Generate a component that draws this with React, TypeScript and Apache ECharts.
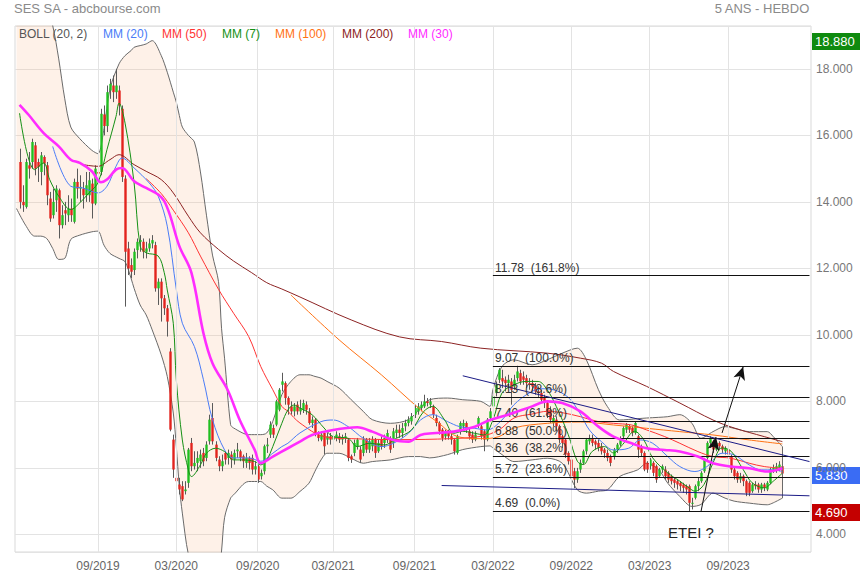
import React, { useEffect, useRef } from 'react';
import * as echarts from 'echarts';

const FONT = '"Liberation Sans", Arial, Helvetica, sans-serif';

// Weekly categories: category 0 = 2019-02-25 (empty lead-in), real week i -> category i + 1
const FIRST_WEEK = '2019-02-25';
const CATEGORY_COUNT = 264;

const xTickDates = ['2019-09-02', '2020-03-02', '2020-09-07', '2021-03-01', '2021-09-06', '2022-03-07', '2022-09-05', '2023-03-06', '2023-09-04'];
const xTickLabels = ['09/2019', '03/2020', '09/2020', '03/2021', '09/2021', '03/2022', '09/2022', '03/2023', '09/2023'];

// weekly candles from 2019-03-04: [open, close, low, high]
const candles: number[][] = [
  [15.2, 14.0, 13.8, 15.6], [14.0, 13.9, 13.7, 14.5], [13.85, 15.2, 13.8, 15.3], [15.1, 15.0, 14.7, 15.5], [15.2, 15.8, 15.0, 15.9],
  [15.7, 15.0, 14.8, 15.8], [15.2, 15.05, 14.6, 15.3], [14.9, 15.4, 14.5, 15.5], [15.35, 15.15, 14.8, 15.4], [15.1, 14.2, 13.9, 15.2],
  [14.1, 13.5, 13.4, 14.3], [13.6, 14.0, 13.5, 14.4], [14.05, 14.4, 13.7, 14.5], [14.35, 13.3, 12.9, 14.4], [13.3, 13.6, 13.2, 13.9],
  [13.75, 13.65, 13.3, 14.0], [13.6, 13.8, 13.4, 14.2], [13.8, 13.6, 13.4, 14.1], [13.4, 14.6, 13.35, 14.7], [14.6, 14.4, 14.1, 15.0],
  [14.4, 14.45, 14.0, 14.8], [14.4, 14.2, 13.8, 14.6], [14.2, 14.5, 14.0, 14.9], [14.2, 14.65, 14.0, 14.9], [14.55, 13.95, 13.5, 14.7],
  [13.95, 15.0, 13.9, 15.1], [14.9, 14.85, 14.4, 15.2], [14.9, 16.65, 14.8, 16.8], [16.63, 16.28, 16.0, 16.9], [16.28, 17.3, 16.1, 17.5],
  [17.35, 17.55, 17.1, 17.7], [17.5, 17.3, 17.0, 17.8], [17.3, 17.5, 17.1, 18.0], [17.35, 16.9, 16.6, 17.5], [16.8, 14.75, 14.6, 16.9],
  [14.7, 12.5, 10.85, 14.8], [12.6, 12.0, 11.8, 12.8], [12.1, 11.9, 11.7, 12.3], [11.95, 12.5, 11.8, 12.6], [12.55, 12.8, 12.3, 12.9],
  [12.8, 12.85, 12.5, 13.0], [12.8, 12.5, 12.3, 12.9], [12.5, 12.6, 12.3, 12.8], [12.6, 12.75, 12.5, 12.9], [12.75, 12.85, 12.6, 13.0],
  [12.7, 11.4, 11.3, 12.8], [11.4, 11.6, 10.9, 11.7], [11.6, 11.1, 10.4, 11.7], [11.1, 10.8, 10.6, 11.2], [10.8, 10.4, 9.95, 10.9],
  [9.5, 7.15, 7.1, 9.6], [6.85, 5.95, 5.7, 7.0], [5.7, 5.6, 4.95, 5.9], [5.5, 5.35, 5.2, 5.7], [5.45, 5.05, 5.0, 5.6],
  [5.3, 5.35, 5.2, 5.6], [5.55, 6.55, 5.4, 6.6], [6.75, 6.05, 5.9, 6.9], [6.05, 6.15, 5.95, 6.5], [6.15, 6.3, 5.9, 6.5],
  [6.2, 6.4, 6.0, 6.55], [6.45, 6.2, 6.05, 6.6], [6.3, 6.7, 6.2, 6.8], [6.8, 7.45, 6.7, 7.6], [7.5, 6.8, 6.7, 7.95],
  [6.7, 6.3, 6.2, 6.8], [6.25, 6.05, 5.9, 6.35], [6.05, 6.2, 5.9, 6.4], [6.45, 6.25, 6.1, 6.5], [6.3, 6.45, 6.1, 6.55],
  [6.4, 6.25, 6.0, 6.5], [6.25, 6.45, 6.1, 6.55], [6.5, 6.55, 6.3, 6.75], [6.5, 6.3, 6.2, 6.55], [6.35, 6.2, 6.0, 6.4],
  [6.15, 6.3, 6.0, 6.45], [6.3, 6.15, 5.95, 6.35], [6.3, 5.95, 5.8, 6.4], [5.95, 6.05, 5.8, 6.2], [6.05, 5.65, 5.55, 6.1],
  [5.75, 5.85, 5.65, 5.95], [5.9, 6.65, 5.8, 6.7], [6.65, 6.7, 6.45, 6.9], [7.0, 7.3, 6.9, 7.4], [7.2, 7.0, 6.9, 7.3],
  [7.3, 8.0, 7.25, 8.05], [7.75, 8.35, 7.7, 8.4], [8.5, 8.6, 8.3, 8.86], [8.55, 8.1, 7.9, 8.6], [8.1, 7.9, 7.6, 8.15],
  [7.85, 7.7, 7.6, 8.0], [7.7, 7.85, 7.55, 7.95], [7.9, 7.7, 7.6, 8.0], [7.7, 7.8, 7.6, 8.05], [7.75, 7.95, 7.65, 8.05],
  [7.9, 7.75, 7.6, 8.0], [7.7, 7.35, 7.3, 7.8], [7.35, 7.45, 7.2, 7.55], [7.45, 7.05, 6.95, 7.5], [7.0, 6.9, 6.8, 7.1],
  [6.85, 7.0, 6.8, 7.1], [7.05, 6.65, 6.4, 7.1], [6.85, 6.95, 6.7, 7.05], [6.95, 6.85, 6.7, 7.05], [6.85, 6.95, 6.7, 7.1],
  [6.9, 7.0, 6.8, 7.1], [6.95, 6.85, 6.75, 7.05], [6.85, 6.9, 6.7, 7.0], [6.9, 6.95, 6.75, 7.05], [6.85, 6.3, 6.2, 6.9],
  [6.35, 6.25, 6.15, 6.4], [6.45, 6.75, 6.35, 6.85], [6.65, 6.85, 6.55, 6.9], [6.55, 6.25, 6.15, 6.65], [6.45, 6.85, 6.35, 6.95],
  [6.85, 6.55, 6.45, 6.9], [6.55, 6.8, 6.45, 6.9], [6.65, 6.85, 6.5, 6.95], [6.85, 6.45, 6.3, 6.9], [6.5, 6.75, 6.45, 6.85],
  [6.85, 6.65, 6.55, 6.95], [6.75, 6.9, 6.6, 7.0], [6.85, 7.05, 6.75, 7.15], [6.85, 6.55, 6.45, 6.95], [6.75, 7.1, 6.6, 7.2],
  [7.05, 7.15, 6.9, 7.3], [7.15, 7.05, 6.9, 7.3], [7.05, 7.2, 6.9, 7.35], [7.25, 7.35, 7.1, 7.45], [7.35, 7.45, 7.25, 7.55],
  [7.4, 7.55, 7.3, 7.65], [7.6, 7.8, 7.5, 7.9], [7.7, 7.85, 7.6, 7.95], [7.8, 7.9, 7.7, 8.0], [7.85, 8.0, 7.8, 8.2],
  [8.0, 7.95, 7.85, 8.1], [7.9, 8.0, 7.8, 8.1], [7.85, 7.6, 7.5, 7.9], [7.5, 7.35, 7.25, 7.6], [7.35, 7.1, 7.0, 7.4],
  [7.15, 6.9, 6.8, 7.2], [6.95, 7.05, 6.85, 7.15], [7.05, 6.95, 6.85, 7.15], [6.95, 6.85, 6.7, 7.05], [6.85, 6.5, 6.4, 6.9],
  [6.45, 6.95, 6.4, 7.0], [7.1, 7.35, 7.0, 7.4], [7.25, 7.35, 7.15, 7.45], [7.35, 7.2, 7.05, 7.4], [7.1, 6.95, 6.85, 7.2],
  [7.0, 6.85, 6.75, 7.1], [6.85, 7.0, 6.8, 7.1], [7.3, 7.5, 7.2, 7.55], [7.25, 6.95, 6.85, 7.35], [7.1, 6.85, 6.5, 7.15],
  [6.85, 7.45, 6.8, 7.5], [7.5, 7.7, 7.4, 7.8], [7.85, 8.15, 7.8, 8.25], [8.25, 8.5, 8.15, 8.6], [8.65, 8.95, 8.55, 9.0],
  [8.7, 8.6, 8.4, 8.95], [8.65, 8.55, 8.3, 8.75], [8.55, 8.65, 8.4, 8.8], [8.6, 8.35, 7.9, 8.7], [8.45, 8.65, 8.35, 8.8],
  [8.7, 8.9, 8.6, 9.07], [8.85, 8.6, 8.5, 8.95], [8.75, 8.65, 8.5, 8.9], [8.7, 8.55, 8.4, 8.8], [8.55, 8.5, 8.35, 8.7],
  [8.55, 8.45, 8.3, 8.65], [8.45, 8.3, 8.2, 8.55], [8.3, 8.25, 8.1, 8.45], [8.25, 8.05, 7.95, 8.35], [8.1, 7.95, 7.8, 8.2],
  [7.95, 7.6, 7.5, 8.0], [7.75, 7.45, 7.35, 7.85], [7.35, 7.5, 7.25, 7.6], [7.45, 7.25, 7.1, 7.55], [7.25, 6.85, 6.75, 7.3],
  [6.95, 6.75, 6.6, 7.0], [6.85, 6.4, 6.3, 6.9], [6.45, 6.2, 6.1, 6.5], [6.25, 5.75, 5.65, 6.3], [5.9, 5.65, 5.39, 6.0],
  [5.65, 5.9, 5.55, 6.0], [5.95, 6.15, 5.85, 6.25], [6.15, 6.5, 6.1, 6.55], [6.5, 6.85, 6.4, 6.9], [6.8, 6.9, 6.7, 7.0],
  [6.9, 6.75, 6.65, 7.0], [6.8, 6.7, 6.55, 6.85], [6.75, 6.6, 6.5, 6.85], [6.65, 6.5, 6.4, 6.75], [6.55, 6.45, 6.3, 6.6],
  [6.45, 6.3, 6.2, 6.55], [6.35, 6.15, 6.05, 6.4], [6.35, 6.55, 6.25, 6.6], [6.55, 6.7, 6.45, 6.75], [6.7, 6.85, 6.65, 6.95],
  [6.95, 7.2, 6.9, 7.25], [7.15, 7.3, 7.05, 7.35], [7.25, 7.15, 7.05, 7.3], [7.2, 7.05, 6.95, 7.25], [7.05, 7.35, 7.0, 7.4],
  [6.95, 6.55, 6.3, 7.0], [6.65, 6.45, 6.35, 6.7], [6.45, 5.95, 5.9, 6.5], [6.15, 5.95, 5.85, 6.2], [6.05, 6.25, 5.95, 6.3],
  [6.15, 5.85, 5.75, 6.2], [6.05, 5.65, 5.55, 6.1], [5.75, 5.95, 5.7, 6.0], [5.95, 6.05, 5.85, 6.1], [5.95, 5.75, 5.65, 6.05],
  [5.85, 5.65, 5.55, 5.9], [5.75, 5.6, 5.5, 5.8], [5.65, 5.55, 5.4, 5.7], [5.6, 5.5, 5.35, 5.65], [5.55, 5.45, 5.3, 5.6],
  [5.5, 5.4, 5.25, 5.55], [5.45, 5.35, 5.2, 5.5], [5.45, 4.95, 4.69, 5.5], [4.95, 4.95, 4.75, 5.1], [5.1, 5.45, 5.05, 5.5],
  [5.45, 5.6, 5.3, 5.7], [5.6, 5.85, 5.55, 5.9], [5.9, 6.25, 5.85, 6.3], [6.3, 6.75, 6.25, 6.8], [6.75, 6.9, 6.6, 6.95],
  [6.8, 6.55, 6.45, 6.85], [6.55, 6.75, 6.5, 6.8], [6.75, 6.65, 6.55, 6.8], [6.65, 6.55, 6.45, 6.7], [6.5, 6.6, 6.4, 6.65],
  [6.55, 6.4, 6.3, 6.6], [6.35, 5.95, 5.85, 6.4], [5.95, 5.75, 5.65, 6.0], [5.85, 5.65, 5.55, 5.9], [5.65, 5.75, 5.55, 5.85],
  [5.75, 5.6, 5.45, 5.8], [5.6, 5.25, 5.15, 5.65], [5.55, 5.25, 5.15, 5.6], [5.3, 5.5, 5.25, 5.55], [5.5, 5.45, 5.35, 5.6],
  [5.5, 5.35, 5.25, 5.55], [5.35, 5.5, 5.25, 5.55], [5.5, 5.4, 5.3, 5.55], [5.35, 5.55, 5.3, 5.6], [5.55, 5.95, 5.5, 6.0],
  [5.95, 6.0, 5.85, 6.1], [5.95, 6.05, 5.85, 6.15], [6.0, 6.1, 5.9, 6.2], [6.05, 5.83, 5.75, 6.15],
];

// indicator readings: [week index, value]
const mm7: number[][] = [[0, 16.67], [5, 14.97], [8, 15.17], [10, 14.67], [13, 14.17], [17, 13.77], [20, 13.97], [23, 14.27], [26, 14.57], [29, 15.57], [32, 16.57], [33, 16.97], [35, 16.37], [38, 14.57], [40, 12.67], [42, 12.47], [46, 12.37], [48, 11.87], [49, 11.35], [51, 10.35], [52, 8.65], [54, 6.84], [56, 5.94], [57, 5.74], [60, 6.09], [62, 6.44], [65, 6.59], [68, 6.49], [71, 6.24], [74, 6.24], [78, 6.19], [80, 6.09], [82, 6.24], [84, 6.64], [87, 7.34], [89, 7.74], [91, 7.89], [93, 7.8], [97, 7.6], [101, 7.2], [104, 6.94], [109, 6.89], [112, 6.64], [116, 6.74], [121, 6.69], [125, 6.89], [130, 7.14], [134, 7.69], [137, 7.85], [141, 7.44], [144, 7.04], [147, 7.1], [151, 7.04], [154, 6.99], [157, 7.44], [160, 8.25], [164, 8.5], [168, 8.6], [172, 8.6], [175, 8.35], [178, 7.85], [182, 7.0], [185, 6.2], [187, 6.1], [190, 6.5], [194, 6.64], [197, 6.45], [200, 6.7], [204, 7.1], [207, 6.85], [210, 6.3], [215, 5.85], [219, 5.6], [222, 5.4], [224, 5.3], [227, 5.5], [230, 6.15], [233, 6.6], [236, 6.5], [240, 5.95], [243, 5.55], [247, 5.4], [250, 5.6], [253, 5.84]];
const mm20: number[][] = [[11, 15.67], [17, 14.47], [21, 14.42], [26, 14.27], [29, 14.47], [32, 15.07], [34, 15.32], [38, 15.02], [43, 14.57], [46, 14.17], [49, 13.27], [52, 11.37], [54, 10.35], [58, 9.65], [61, 8.65], [64, 7.45], [68, 6.54], [71, 6.3], [76, 6.3], [80, 6.2], [84, 6.44], [87, 6.64], [89, 6.74], [93, 7.05], [100, 7.39], [104, 7.44], [109, 7.24], [114, 6.89], [120, 6.64], [124, 6.74], [129, 7.04], [133, 7.44], [137, 7.6], [142, 7.39], [146, 7.24], [151, 7.19], [155, 7.14], [160, 7.44], [164, 7.9], [169, 8.25], [173, 8.38], [177, 8.35], [182, 8.12], [186, 7.62], [189, 7.14], [193, 6.79], [197, 6.54], [202, 6.59], [206, 6.84], [210, 6.74], [215, 6.34], [219, 6.04], [224, 5.89], [228, 6.04], [233, 6.44], [237, 6.39], [242, 6.09], [246, 5.94], [250, 5.94], [253, 5.89]];
const mm30: number[][] = [[0, 16.92], [3, 16.62], [8, 16.07], [13, 15.67], [17, 15.27], [20, 15.17], [24, 14.92], [27, 14.59], [29, 14.67], [32, 14.97], [34, 15.02], [38, 14.62], [42, 14.42], [46, 14.22], [48, 14.02], [50, 13.57], [53, 12.67], [57, 11.87], [61, 10.05], [64, 9.15], [69, 8.35], [73, 7.45], [78, 6.54], [80, 6.14], [84, 6.34], [89, 6.59], [93, 6.79], [97, 6.99], [104, 7.14], [112, 7.22], [117, 7.09], [124, 6.84], [129, 6.79], [133, 6.99], [137, 7.04], [144, 7.09], [151, 7.24], [156, 7.44], [162, 7.6], [170, 7.85], [175, 8.0], [180, 7.95], [186, 7.7], [192, 7.24], [197, 6.94], [203, 6.74], [208, 6.59], [214, 6.54], [219, 6.49], [225, 6.34], [230, 6.14], [236, 6.04], [242, 5.99], [248, 5.89], [253, 5.99]];
const mm50: number[][] = [[42, 14.7], [47, 14.25], [51, 13.75], [56, 13.07], [60, 12.37], [66, 11.37], [71, 10.65], [76, 9.95], [80, 9.05], [84, 8.35], [87, 7.85], [89, 7.7], [93, 7.35], [101, 6.94], [110, 6.88], [126, 6.85], [143, 6.88], [153, 6.95], [159, 7.14], [164, 7.5], [170, 7.62], [175, 7.7], [180, 7.66], [186, 7.54], [192, 7.39], [197, 7.34], [203, 7.29], [208, 7.14], [214, 6.94], [219, 6.74], [225, 6.49], [230, 6.34], [236, 6.29], [242, 6.14], [247, 6.04], [253, 5.99]];
const mm100: number[][] = [[90, 11.2], [106, 9.85], [120, 8.8], [133, 7.75], [139, 7.35], [144, 6.99], [149, 6.89], [153, 6.88], [159, 6.94], [164, 7.2], [175, 7.34], [186, 7.38], [197, 7.29], [208, 7.19], [219, 7.09], [230, 6.99], [242, 6.84], [253, 6.72]];
const mm200: number[][] = [[21, 15.12], [26, 15.07], [30, 15.27], [33, 15.42], [38, 15.12], [42, 14.92], [47, 14.67], [51, 14.27], [56, 13.57], [60, 13.07], [66, 12.57], [71, 12.22], [77, 11.87], [82, 11.57], [87, 11.38], [93, 11.14], [110, 10.45], [126, 9.94], [140, 9.8], [153, 9.6], [175, 9.45], [186, 9.3], [193, 9.15], [197, 8.9], [208, 8.45], [219, 7.95], [230, 7.44], [237, 7.2], [247, 6.94], [253, 6.79]];

// Bollinger (20, 2) bands, read at these week indices
const bollIdx = [-1, 2, 5, 7, 9, 11, 13, 15, 17, 20, 24, 26, 28, 30, 33, 35, 37, 38, 40, 42, 44, 47, 49, 51, 52, 53, 54, 56, 58, 60, 62, 64, 66, 67, 68, 70, 71, 76, 80, 82, 84, 87, 90, 93, 96, 98, 100, 102, 106, 110, 114, 117, 123, 129, 133, 136, 142, 147, 153, 156, 157, 160, 164, 170, 175, 180, 185, 188, 192, 195, 199, 205, 208, 212, 215, 219, 223, 226, 230, 234, 237, 242, 248, 250, 253];
const bollUpper = [22.0, 21.5, 20.8, 20.3, 19.8, 19.3, 18.3, 17.1, 16.25, 15.9, 15.55, 15.45, 16.2, 17.4, 18.15, 18.4, 18.55, 18.65, 18.7, 18.75, 18.85, 18.4, 17.9, 17.3, 17.0, 16.6, 16.25, 16.0, 15.8, 14.9, 13.6, 12.4, 11.6, 10.2, 9.3, 7.3, 7.2, 7.0, 7.0, 7.05, 7.4, 8.2, 8.6, 8.8, 8.8, 8.75, 8.7, 8.6, 8.4, 8.05, 7.7, 7.45, 7.34, 7.45, 7.8, 8.05, 8.1, 8.05, 8.0, 7.85, 8.35, 9.05, 9.25, 9.1, 9.25, 9.45, 9.6, 9.25, 8.35, 7.84, 7.44, 7.48, 7.5, 7.52, 7.54, 7.6, 7.34, 6.89, 7.09, 7.24, 7.19, 7.09, 7.09, 6.94, 6.64];
const bollLower = [13.8, 13.3, 12.97, 12.97, 12.9, 12.6, 12.27, 12.3, 12.87, 13.0, 13.1, 13.12, 12.7, 12.45, 12.3, 12.2, 11.7, 11.4, 10.9, 10.6, 10.15, 9.4, 8.75, 7.65, 6.64, 5.44, 4.64, 3.4, 3.0, 2.9, 2.8, 2.6, 2.8, 3.5, 4.5, 5.09, 5.19, 5.59, 5.59, 5.45, 5.34, 5.09, 5.09, 5.29, 5.54, 5.9, 6.24, 6.44, 6.44, 6.29, 6.14, 6.19, 6.24, 6.34, 6.34, 6.3, 6.4, 6.55, 6.64, 6.66, 6.6, 6.4, 6.19, 6.24, 6.29, 6.14, 5.34, 5.24, 5.3, 5.34, 5.74, 5.94, 6.14, 5.94, 5.54, 5.14, 4.84, 4.9, 5.24, 5.09, 5.0, 4.94, 4.89, 4.95, 5.09];

// Fibonacci retracement drawn from 03/2022
const fibStartDate = '2022-03-07';
const fibLevels = [11.78, 9.07, 8.13, 7.4, 6.88, 6.36, 5.72, 4.69];
const fibLabels = ['11.78  (161.8%)', '9.07  (100.0%)', '8.13  (78.6%)', '7.40  (61.8%)', '6.88  (50.0%)', '6.36  (38.2%)', '5.72  (23.6%)', '4.69  (0.0%)'];

// trend lines & arrows: [startWeek, startValue, endWeek, endValue]
const trendLines = [[147, 8.77, 262, 6.19], [140, 5.47, 262, 5.16]];
const arrows = [[226, 4.68, 231, 6.93], [233, 7.05, 240, 9.04]];

// price tags on the right axis
const priceTags = [{ v: 18.88, c: '#0f8a0f' }, { v: 5.83, c: '#3a6cf4' }, { v: 4.69, c: '#c40000' }];

const legendItems = [
  { t: 'BOLL (20, 2)', c: '#555555', x: 19 },
  { t: 'MM (20)', c: '#4a7cf7', x: 103 },
  { t: 'MM (50)', c: '#ff3434', x: 162 },
  { t: 'MM (7)', c: '#159015', x: 222 },
  { t: 'MM (100)', c: '#ff7214', x: 275 },
  { t: 'MM (200)', c: '#8c2323', x: 342 },
  { t: 'MM (30)', c: '#ff2cff', x: 408 },
];

function buildCategories(): string[] {
  const [y, m, d] = FIRST_WEEK.split('-').map(Number);
  const t0 = Date.UTC(y, m - 1, d);
  const out: string[] = [];
  for (let k = 0; k < CATEGORY_COUNT; k++) {
    const dt = new Date(t0 + k * 7 * 86400000);
    out.push(dt.toISOString().slice(0, 10));
  }
  return out;
}

export default function App() {
  const ref = useRef<HTMLDivElement>(null);
  useEffect(() => {
    if (!ref.current) return;
    const chart = echarts.init(ref.current, null, { renderer: 'svg' });
    const cats = buildCategories();
    const cat = (i: number) => cats[i + 1];
    const pts = (arr: number[][]) => arr.map(([i, v]) => [i + 1, v]);
    const line = (name: string, arr: number[][], color: string, width: number, z: number) => ({
      type: 'line', name, data: pts(arr), showSymbol: false, symbol: 'none', smooth: 0.35,
      lineStyle: { color, width }, z, silent: true,
    });
    const nB = bollIdx.length - 1;
    const bandEdge = { color: '#6a6a6a', width: 1, type: 'solid' };

    const texts: any[] = [
      { type: 'text', left: 14, top: 2, style: { text: 'SES SA - abcbourse.com', fill: '#8a8a8a', font: `13px ${FONT}` }, silent: true },
      { type: 'text', right: 50, top: 2, style: { text: '5 ANS - HEBDO', fill: '#8a8a8a', font: `13px ${FONT}` }, silent: true },
      ...legendItems.map((l) => ({ type: 'text', left: l.x, top: 28, z: 100, style: { text: l.t, fill: l.c, font: `12px ${FONT}` }, silent: true })),
      { type: 'text', left: 668, top: 525, z: 100, style: { text: 'ETEI ?', fill: '#222', font: `15px ${FONT}` }, silent: true },
    ];

    const option: any = {
      animation: false,
      backgroundColor: '#ffffff',
      textStyle: { fontFamily: FONT },
      grid: { left: 15, right: 49, top: 26, bottom: 28, show: true, borderColor: '#d9d9d9', borderWidth: 1, outerBoundsMode: 'none', containLabel: false },
      xAxis: {
        type: 'category', data: cats, boundaryGap: true,
        axisLine: { show: false }, axisTick: { show: false }, splitLine: { show: false },
        axisLabel: {
          color: '#666', fontSize: 12, fontFamily: FONT, margin: 8,
          interval: (_i: number, v: string) => xTickDates.indexOf(v) >= 0,
          formatter: (v: string) => xTickLabels[xTickDates.indexOf(v)] ?? '',
        },
      },
      yAxis: {
        type: 'value', position: 'right', min: 3.47, max: 19.29, splitNumber: 8, scale: true,
        axisLine: { show: false }, axisTick: { show: false },
        splitLine: { lineStyle: { color: '#e3e3e3', width: 1 } },
        axisLabel: { color: '#777', fontSize: 12, fontFamily: FONT, margin: 5, showMinLabel: false, showMaxLabel: false, formatter: (v: number) => v.toFixed(3) },
      },
      graphic: texts,
      series: [
        {
          type: 'line', name: 'vgrid', data: [], z: 1, silent: true,
          markLine: { silent: true, symbol: ['none', 'none'], label: { show: false }, lineStyle: { color: '#e3e3e3', width: 1, type: 'solid' }, data: xTickDates.map((d) => ({ xAxis: d })) },
        },
        {
          type: 'line', name: 'bollLower', stack: 'boll', data: bollIdx.map((i, n) => [i + 1, bollLower[n]]),
          showSymbol: false, symbol: 'none', smooth: 0.3, lineStyle: { color: '#6a6a6a', width: 1 }, z: 2, silent: true,
          markLine: {
            silent: true, symbol: ['none', 'none'], label: { show: false }, lineStyle: bandEdge,
            data: [
              [{ coord: [cat(bollIdx[0]), bollLower[0]] }, { coord: [cat(bollIdx[0]), bollUpper[0]] }],
              [{ coord: [cat(bollIdx[nB]), bollLower[nB]] }, { coord: [cat(bollIdx[nB]), bollUpper[nB]] }],
            ],
          },
        },
        {
          type: 'line', name: 'bollUpper', stack: 'boll', data: bollIdx.map((i, n) => [i + 1, +(bollUpper[n] - bollLower[n]).toFixed(3)]),
          showSymbol: false, symbol: 'none', smooth: 0.3, lineStyle: { color: '#6a6a6a', width: 1 },
          areaStyle: { color: 'rgba(248, 182, 140, 0.28)' }, z: 2, silent: true,
        },
        {
          type: 'custom', name: 'candles', z: 3, silent: true, clip: true,
          data: candles.map((d, i) => [i + 1, d[0], d[1], d[2], d[3]]),
          encode: { x: 0, y: [1, 2, 3, 4] },
          renderItem: (_p: any, api: any) => {
            const k = api.value(0);
            const o = api.value(1), c = api.value(2), l = api.value(3), h = api.value(4);
            const px = api.coord([k, o]);
            const x = Math.round(px[0]) + 0.5;
            const yo = px[1];
            const yc = api.coord([k, c])[1];
            const yl = api.coord([k, l])[1];
            const yh = api.coord([k, h])[1];
            const w = 2.4;
            const up = c >= o;
            const top = Math.min(yo, yc);
            const hh = Math.max(Math.abs(yo - yc), 1);
            return {
              type: 'group',
              children: [
                { type: 'line', shape: { x1: x, y1: yh, x2: x, y2: yl }, style: { stroke: '#5a5a5a', lineWidth: 1 } },
                { type: 'rect', shape: { x: x - w / 2, y: top, width: w, height: hh }, style: { fill: up ? '#21bf21' : '#e2231d' } },
              ],
            };
          },
        },
        line('MM (200)', mm200, '#8c2323', 1, 4),
        line('MM (100)', mm100, '#ff7214', 1, 4),
        line('MM (50)', mm50, '#ff3434', 1, 4),
        line('MM (20)', mm20, '#4a7cf7', 1, 4),
        line('MM (7)', mm7, '#159015', 1, 4),
        line('MM (30)', mm30, '#ff2cff', 2.6, 5),
        {
          type: 'line', name: 'annotations', data: [], z: 6, silent: true,
          markLine: {
            silent: true, symbol: ['none', 'none'],
            data: [
              ...fibLevels.map((v, n) => [
                {
                  coord: [fibStartDate, v],
                  lineStyle: { color: '#111', width: 1, type: 'solid' },
                  label: { show: true, position: 'insideStartTop', formatter: fibLabels[n], color: '#333', fontSize: 12, fontFamily: FONT, distance: 2 },
                },
                { coord: [cats[CATEGORY_COUNT - 1], v] },
              ]),
              ...trendLines.map(([a, av, b, bv]) => [
                { coord: [cat(a), av], lineStyle: { color: '#1b1b86', width: 1, type: 'solid' }, label: { show: false } },
                { coord: [cat(b), bv] },
              ]),
              ...arrows.map(([a, av, b, bv]) => [
                { coord: [cat(a), av], symbol: 'none', lineStyle: { color: '#111', width: 1, type: 'solid' }, label: { show: false } },
                { coord: [cat(b), bv], symbol: 'arrow', symbolSize: [9, 13] },
              ]),
            ],
          },
        },
      ],
    };
    chart.setOption(option);

    // price tags placed at their values on the right axis
    const tags = priceTags.map((p) => {
      const y = chart.convertToPixel({ yAxisIndex: 0 }, p.v) as number;
      return {
        type: 'group', z: 110, silent: true,
        children: [
          { type: 'rect', shape: { x: 812, y: Math.round(y) - 7, width: 48, height: 17 }, style: { fill: p.c } },
          { type: 'text', style: { text: p.v.toFixed(3), x: 815, y: Math.round(y) + 1.5, fill: '#fff', font: `13px ${FONT}`, textVerticalAlign: 'middle', verticalAlign: 'middle' } },
        ],
      };
    });
    chart.setOption({ graphic: [...texts, ...tags] });
    return () => chart.dispose();
  }, []);
  return <div ref={ref} style={{ position: 'fixed', left: 0, top: 0, width: 860, height: 580, background: '#fff' }} />;
}
